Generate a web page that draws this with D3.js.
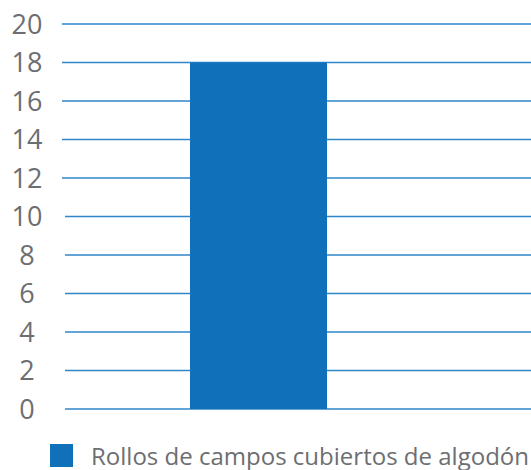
<!DOCTYPE html>
<html>
<head>
<meta charset="utf-8">
<script src="https://cdn.jsdelivr.net/npm/d3@7"></script>
<style>
  html, body { margin: 0; padding: 0; background: #fff; }
  svg { display: block; }
</style>
</head>
<body>
<svg id="chart" width="531" height="470"></svg>
<script>
// Data
const categories = ["Rollos de campos cubiertos de algodón"];
const values = [18];
const yTicks = [0, 2, 4, 6, 8, 10, 12, 14, 16, 18, 20];

const svg = d3.select("#chart");
const W = 531;
const barColor = "#1071ba";
const gridColor = "#2f86c8";
const textColor = "#6d6e71";
const font = "'Open Sans', sans-serif";

const y = d3.scaleLinear().domain([0, 20]).range([409, 24]);
const x = d3.scaleBand().domain(categories).range([53, 464]).paddingInner(0).paddingOuter(1);

// Gridlines
svg.append("g")
  .selectAll("line")
  .data(yTicks)
  .join("line")
  .attr("x1", d => d >= 12 ? 62 : 65)
  .attr("x2", W)
  .attr("y1", d => y(d))
  .attr("y2", d => y(d))
  .attr("stroke", gridColor)
  .attr("stroke-width", 1.3);

// Tick labels
svg.append("g")
  .selectAll("text")
  .data(yTicks)
  .join("text")
  .attr("x", 27)
  .attr("y", d => y(d))
  .attr("dy", "0.36em")
  .attr("text-anchor", "middle")
  .attr("font-family", font)
  .attr("font-size", 27)
  .attr("fill", textColor)
  .text(d => d);

// Bar
svg.append("g")
  .selectAll("rect")
  .data(values)
  .join("rect")
  .attr("x", (d, i) => x(categories[i]))
  .attr("width", x.bandwidth())
  .attr("y", d => y(d))
  .attr("height", d => y(0) - y(d))
  .attr("fill", barColor);

// Legend
const legend = svg.append("g").attr("transform", "translate(50,444)");
legend.append("rect").attr("width", 23).attr("height", 23).attr("fill", barColor);
legend.append("text")
  .attr("x", 41)
  .attr("y", 20.5)
  .attr("font-family", font)
  .attr("font-size", 24)
  .attr("fill", textColor)
  .attr("textLength", 438)
  .attr("lengthAdjust", "spacingAndGlyphs")
  .text(categories[0]);
</script>
</body>
</html>
